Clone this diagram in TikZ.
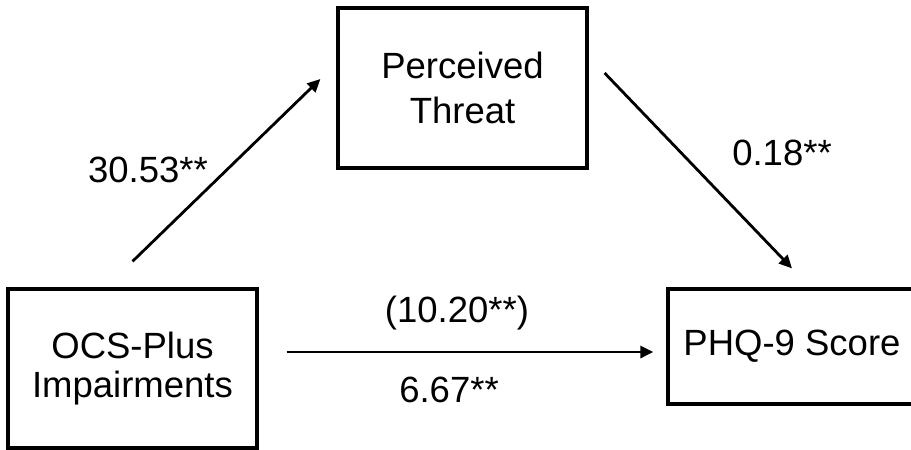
\documentclass[tikz,border=0pt]{standalone}
\usepackage{fontspec}
\setmainfont{Liberation Sans}
\usetikzlibrary{arrows.meta}
\begin{document}
\begin{tikzpicture}[x=1pt,y=-1pt,
  box/.style={draw=black,line width=3.2pt,inner sep=0pt,align=center},
  lbl/.style={inner sep=0pt,anchor=base,font=\fontsize{36.5}{44}\selectfont},
  arr/.style={line width=2.8pt,-{Stealth[length=13pt,width=12pt,inset=0pt]}}]
\useasboundingbox (0,0) rectangle (911,450);
\begin{scope}
\clip (0,0) rectangle (911,450);
\node[box,minimum width=249pt,minimum height=159pt,font=\fontsize{36.5}{39}\selectfont] (L) at (132.5,368.5) {OCS-Plus\\Impairments};
\node[box,minimum width=249pt,minimum height=160pt,font=\fontsize{36.5}{45}\selectfont] (T) at (462.5,88) {Perceived\\Threat};
\node[draw=black,line width=3.2pt,inner sep=0pt,minimum width=280pt,minimum height=115pt,font=\fontsize{36.5}{44}\selectfont] (R) at (808,346.5) {PHQ-9 Score\hspace*{32pt}};
\end{scope}
\draw[arr] ([yshift=26pt]L.north) -- ([xshift=-16pt,yshift=9pt]T.west);
\draw[arr] ([xshift=16pt,yshift=15pt]T.east) -- ([xshift=-16pt,yshift=19pt]R.north);
\draw[arr] ([xshift=28pt,yshift=16.5pt]L.east) -- ([xshift=-13pt,yshift=-5.5pt]R.west);
\node[lbl] (a) at (148,182) {30.53**};
\node[lbl] (b) at (782,165) {0.18**};
\node[lbl] (c) at (457,322) {(10.20**)};
\node[lbl] (d) at (449,402) {6.67**};
\end{tikzpicture}
\end{document}
